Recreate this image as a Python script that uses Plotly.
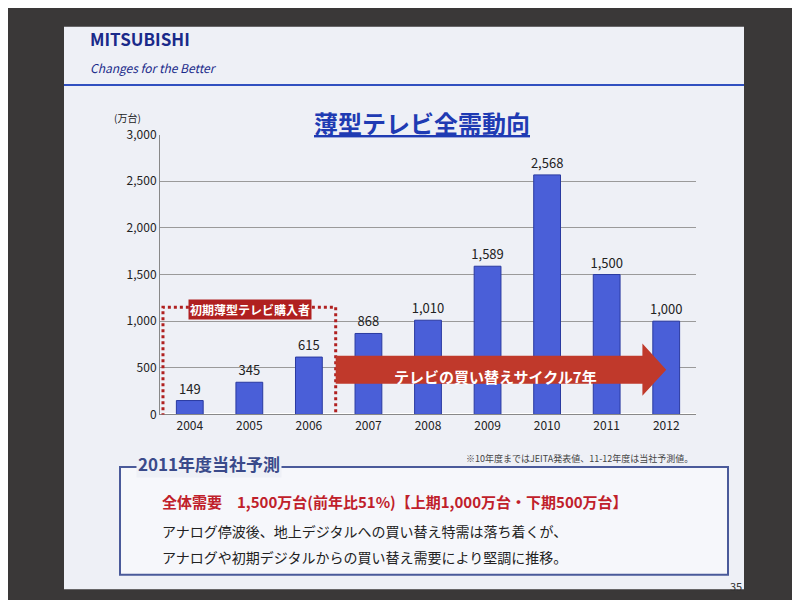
import plotly.graph_objects as go

years = ["2004","2005","2006","2007","2008","2009","2010","2011","2012"]
demand = [149,345,615,868,1010,1589,2568,1500,1000]
yticks = [0,500,1000,1500,2000,2500,3000]
ytick_text = ["0","500","1,000","1,500","2,000","2,500","3,000"]
labels = ["149","345","615","868","1,010","1,589","2,568","1,500","1,000"]

F = "Noto Sans CJK JP"
fig = go.Figure()
fig.add_trace(go.Bar(x=years, y=demand, marker=dict(color="#4a5fd8", line=dict(color="#2a3aa0", width=1)),
                     width=0.45, text=labels, textposition="outside", constraintext="none",
                     textfont=dict(family=F, size=13, color="#222"), cliponaxis=False))
fig.update_layout(
    width=800, height=600, margin=dict(l=0, r=0, t=0, b=0),
    paper_bgcolor="#3a3838", plot_bgcolor="#f4f5f9", showlegend=False,
    xaxis=dict(domain=[0.19, 0.86], tickfont=dict(family=F, size=12, color="#222"),
               showline=True, linecolor="#888", ticks=""),
    yaxis=dict(domain=[0.32, 0.80], range=[0, 3000], tickvals=yticks, ticktext=ytick_text,
               tickfont=dict(family=F, size=12, color="#222"), gridcolor="#9a9a9a",
               showline=True, linecolor="#888"),
    font=dict(family=F),
)
shapes = [
    dict(type="rect", xref="paper", yref="paper", x0=0.07, x1=0.92, y0=0.02, y1=0.985,
         fillcolor="#eef0f6", line=dict(width=0), layer="below"),
    dict(type="rect", xref="x", yref="y", x0=-0.45, x1=2.45, y0=-120, y1=1150,
         line=dict(color="#b02020", width=3, dash="dot"), fillcolor="rgba(0,0,0,0)"),
    dict(type="path", xref="x", yref="y",
         path="M 2.45 330 L 7.6 330 L 7.6 200 L 8.0 480 L 7.6 760 L 7.6 630 L 2.45 630 Z",
         fillcolor="#c0392b", line=dict(width=0)),
    dict(type="rect", xref="paper", yref="paper", x0=0.14, x1=0.90, y0=0.045, y1=0.23,
         line=dict(color="#4a5a9a", width=2), fillcolor="#f6f7fb"),
    dict(type="line", xref="paper", yref="paper", x0=0.07, x1=0.92, y0=0.885, y1=0.885,
         line=dict(color="#3050c0", width=2)),
]
fig.update_layout(shapes=shapes)
ann = [
    dict(text="<b>MITSUBISHI</b>", x=0.10, y=0.965, size=17, color="#1a2a8a"),
    dict(text="<i>Changes for the Better</i>", x=0.10, y=0.915, size=12, color="#1a2a8a"),
    dict(text="<b><u>薄型テレビ全需動向</u></b>", x=0.38, y=0.82, size=24, color="#1f3bb3"),
    dict(text="(万台)", x=0.13, y=0.83, size=10, color="#222"),
    dict(text="<b>初期薄型テレビ購入者</b>", x=0.225, y=0.50, size=12, color="white", bg="#b02020"),
    dict(text="<b>テレビの買い替えサイクル7年</b>", x=0.48, y=0.385, size=15, color="white"),
    dict(text="※10年度まではJEITA発表値、11-12年度は当社予測値。", x=0.57, y=0.245, size=9, color="#444"),
    dict(text="<b>2011年度当社予測</b>", x=0.16, y=0.235, size=17, color="#3a4a8a", bg="#eef0f6"),
    dict(text="<b>全体需要　1,500万台</b><b>(前年比51%)【上期1,000万台・下期500万台】</b>", x=0.19, y=0.17, size=15, color="#c0202a"),
    dict(text="アナログ停波後、地上デジタルへの買い替え特需は落ち着くが、", x=0.19, y=0.12, size=14, color="#222"),
    dict(text="アナログや初期デジタルからの買い替え需要により堅調に推移。", x=0.19, y=0.075, size=14, color="#222"),
    dict(text="35", x=0.90, y=0.025, size=11, color="#333"),
]
fig.update_layout(annotations=[dict(text=a["text"], x=a["x"], y=a["y"], xref="paper", yref="paper",
    xanchor="left", yanchor="middle", showarrow=False, bgcolor=a.get("bg"),
    font=dict(family=F, size=a["size"], color=a["color"])) for a in ann])
fig.write_html("out.html")
